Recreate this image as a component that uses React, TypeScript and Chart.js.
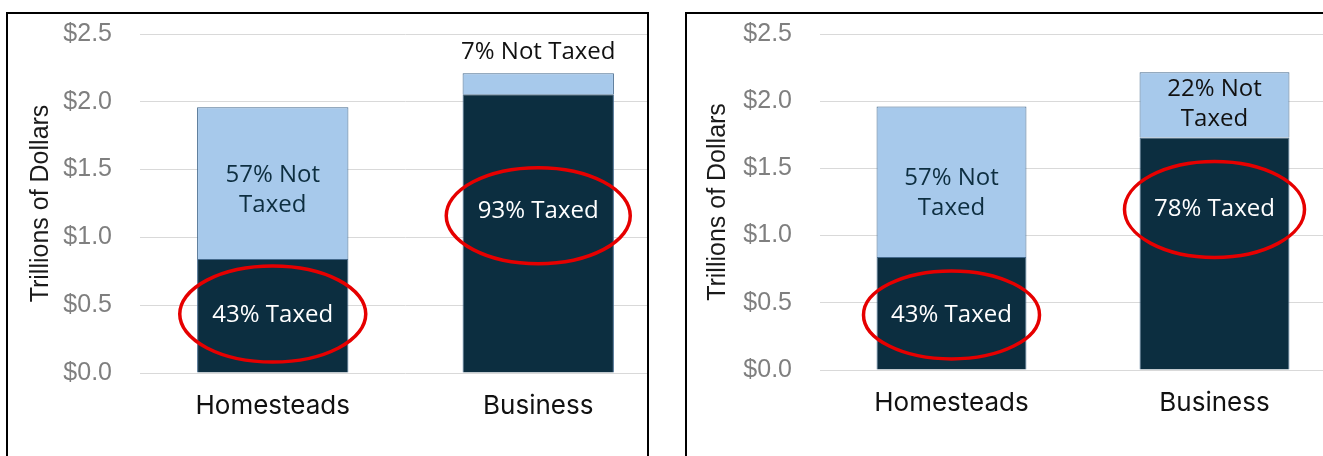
import React, { useEffect, useRef } from 'react';
import { Chart, registerables } from 'chart.js';

Chart.register(...registerables);

// ---------- data ----------
const categories = ['Homesteads', 'Business'];
const yTickValues = [0, 0.5, 1, 1.5, 2, 2.5];
const yTickLabels = ['$0.0', '$0.5', '$1.0', '$1.5', '$2.0', '$2.5'];
const yAxisTitle = 'Trillions of Dollars';

// left panel (trillions of dollars)
const leftTaxed = [0.84, 2.055];
const leftNotTaxed = [1.12, 0.155];
const leftTaxedText = [['43% Taxed'], ['93% Taxed']];
const leftNotTaxedText = [['57% Not', 'Taxed'], ['7% Not Taxed']];
const leftTaxedTextAt = [0.44, 1.21];
const leftNotTaxedTextAt = [1.36, 2.38];
const leftCircleAt = [0.435, 1.16];

// right panel (trillions of dollars)
const rightTaxed = [0.84, 1.73];
const rightNotTaxed = [1.12, 0.485];
const rightTaxedText = [['43% Taxed'], ['78% Taxed']];
const rightNotTaxedText = [['57% Not', 'Taxed'], ['22% Not', 'Taxed']];
const rightTaxedTextAt = [0.42, 1.21];
const rightNotTaxedTextAt = [1.33, 1.99];
const rightCircleAt = [0.41, 1.195];

// ---------- styles ----------
const DARK = '#0c2e40';
const LIGHT = '#a7c9eb';
const EDGE = '#44698c';
const RED = '#e60000';
const H = 456;

type PanelCfg = {
  taxed: number[];
  notTaxed: number[];
  taxedText: string[][];
  notTaxedText: string[][];
  taxedTextAt: number[];
  notTaxedTextAt: number[];
  circleAt: number[];
  notTaxedColors: string[];
  circleRx: number[];
  circleRy: number[];
  boxLeft: number;
  boxTop: number;
  boxWidth: number;
  canvasW: number;
  plotLeft: number;
  plotRight: number;
  plotTop: number;
  plotBottom: number;
  titleCenterX: number;
};

const leftCfg: PanelCfg = {
  taxed: leftTaxed,
  notTaxed: leftNotTaxed,
  taxedText: leftTaxedText,
  notTaxedText: leftNotTaxedText,
  taxedTextAt: leftTaxedTextAt,
  notTaxedTextAt: leftNotTaxedTextAt,
  circleAt: leftCircleAt,
  notTaxedColors: ['#0d2e40', '#111111'],
  circleRx: [93, 92],
  circleRy: [48, 48],
  boxLeft: 6,
  boxTop: 12,
  boxWidth: 643,
  canvasW: 700,
  plotLeft: 140,
  plotRight: 671,
  plotTop: 34,
  plotBottom: 373,
  titleCenterX: 41,
};

const rightCfg: PanelCfg = {
  taxed: rightTaxed,
  notTaxed: rightNotTaxed,
  taxedText: rightTaxedText,
  notTaxedText: rightNotTaxedText,
  taxedTextAt: rightTaxedTextAt,
  notTaxedTextAt: rightNotTaxedTextAt,
  circleAt: rightCircleAt,
  notTaxedColors: ['#0d2e40', '#111111'],
  circleRx: [88, 90],
  circleRy: [44, 48],
  boxLeft: 685,
  boxTop: 12,
  boxWidth: 700,
  canvasW: 1360,
  plotLeft: 820,
  plotRight: 1346,
  plotTop: 34,
  plotBottom: 370,
  titleCenterX: 718,
};

function Panel({ cfg }: { cfg: PanelCfg }) {
  const ref = useRef<HTMLCanvasElement>(null);

  useEffect(() => {
    const canvas = ref.current!;
    const padLeft = cfg.boxLeft + 2;
    const titleSize = 25;
    const titleLine = titleSize * 1.2;

    const annotate = {
      id: 'annotate',
      afterDatasetsDraw(chart: any) {
        const { ctx } = chart;
        const yScale = chart.scales.y;
        const lineGap = 30;
        const baselineNudge = 2;
        ctx.save();
        ctx.textAlign = 'center';
        ctx.textBaseline = 'middle';
        ctx.font = '24px "Open Sans"';

        const drawTexts = (dsIndex: number, texts: string[][], at: number[], colors: string[]) => {
          const meta = chart.getDatasetMeta(dsIndex);
          meta.data.forEach((el: any, i: number) => {
            const lines = texts[i];
            const cy = yScale.getPixelForValue(at[i]) + baselineNudge;
            ctx.fillStyle = colors[i];
            lines.forEach((t, k) => {
              ctx.fillText(t, el.x, cy + (k - (lines.length - 1) / 2) * lineGap);
            });
          });
        };
        drawTexts(0, cfg.taxedText, cfg.taxedTextAt, ['#ffffff', '#ffffff']);
        drawTexts(1, cfg.notTaxedText, cfg.notTaxedTextAt, cfg.notTaxedColors);

        const meta0 = chart.getDatasetMeta(0);
        ctx.strokeStyle = RED;
        ctx.lineWidth = 3.5;
        meta0.data.forEach((el: any, i: number) => {
          const cy = yScale.getPixelForValue(cfg.circleAt[i]);
          ctx.beginPath();
          ctx.ellipse(el.x, cy, cfg.circleRx[i], cfg.circleRy[i], 0, 0, Math.PI * 2);
          ctx.stroke();
        });
        ctx.restore();
      },
    };

    const chart = new Chart(canvas, {
      type: 'bar',
      data: {
        labels: categories,
        datasets: [
          {
            label: 'Taxed',
            data: cfg.taxed,
            backgroundColor: DARK,
            borderColor: EDGE,
            borderWidth: 1,
            barPercentage: 0.57,
            categoryPercentage: 1,
          },
          {
            label: 'Not Taxed',
            data: cfg.notTaxed,
            backgroundColor: LIGHT,
            borderColor: EDGE,
            borderWidth: 1,
            barPercentage: 0.57,
            categoryPercentage: 1,
          },
        ],
      },
      options: {
        responsive: false,
        animation: false,
        devicePixelRatio: 1,
        layout: {
          padding: {
            left: padLeft,
            right: cfg.canvasW - cfg.plotRight,
            top: cfg.plotTop,
            bottom: 0,
          },
        },
        plugins: {
          legend: { display: false },
          tooltip: { enabled: false },
        },
        scales: {
          x: {
            stacked: true,
            grid: { display: false, drawTicks: false },
            border: { display: false },
            ticks: {
              color: '#111111',
              font: { family: 'Inter', size: 26 },
              padding: 18,
            },
            afterFit: (s: any) => {
              s.height = H - cfg.plotBottom;
            },
          },
          y: {
            stacked: true,
            min: 0,
            max: 2.5,
            afterBuildTicks: (s: any) => {
              s.ticks = yTickValues.map((v) => ({ value: v }));
            },
            ticks: {
              callback: (_v: any, i: number) => yTickLabels[i],
              color: '#7f7f7f',
              font: { family: 'Liberation Sans', size: 25 },
              padding: 28,
            },
            grid: { color: '#d9d9d9', lineWidth: 1, drawTicks: false },
            border: { display: false },
            title: {
              display: true,
              text: yAxisTitle,
              color: '#1a1a1a',
              font: { family: 'Liberation Sans', size: titleSize },
              padding: { top: cfg.titleCenterX - padLeft - titleLine / 2, bottom: 0 },
            },
            afterFit: (s: any) => {
              s.width = cfg.plotLeft - padLeft;
              // tick padding must not push the plot area down
              s.paddingTop = 0;
              s.paddingBottom = 0;
            },
          },
        },
      } as any,
      plugins: [annotate],
    });

    return () => chart.destroy();
  }, [cfg]);

  return (
    <div
      style={{
        position: 'absolute',
        left: cfg.boxLeft,
        top: cfg.boxTop,
        width: cfg.boxWidth,
        height: 470,
        border: '2px solid #000',
        boxSizing: 'border-box',
        overflow: 'hidden',
        background: '#fff',
      }}
    >
      <canvas
        ref={ref}
        width={cfg.canvasW}
        height={H}
        style={{
          position: 'absolute',
          left: -(cfg.boxLeft + 2),
          top: -(cfg.boxTop + 2),
          width: cfg.canvasW,
          height: H,
          display: 'block',
        }}
      />
    </div>
  );
}

export default function App() {
  return (
    <div
      style={{
        position: 'fixed',
        left: 0,
        top: 0,
        width: 1323,
        height: 456,
        overflow: 'hidden',
        background: '#ffffff',
      }}
    >
      <Panel cfg={leftCfg} />
      <Panel cfg={rightCfg} />
    </div>
  );
}
